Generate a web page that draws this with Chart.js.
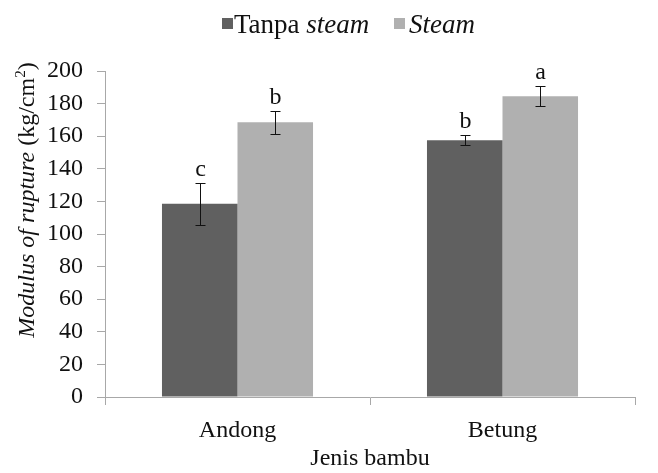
<!DOCTYPE html>
<html>
<head>
<meta charset="utf-8">
<script src="https://cdn.jsdelivr.net/npm/chart.js@4.4.1/dist/chart.umd.min.js"></script>
<style>
  html, body { margin: 0; padding: 0; background: #fff; }
  #wrap { width: 658px; height: 473px; position: relative; }
</style>
</head>
<body>
<div id="wrap"><canvas id="myChart"></canvas></div>
<script>
var categories = ["Andong", "Betung"];
var tanpaSteam = [118.5, 157.5];
var steam = [168.5, 184.5];
var tanpaSteamErr = [13, 3];
var steamErr = [7, 6];
var tanpaSteamLetters = ["c", "b"];
var steamLetters = ["b", "a"];
var darkColor = "#606060";
var lightColor = "#b0b0b0";
var axisColor = "#a8a8a8";
var serif = "'Liberation Serif', 'Times New Roman', serif";

var errorBars = {
  id: 'errorBars',
  afterDatasetsDraw(chart) {
    var ctx = chart.ctx;
    var y = chart.scales.y;
    var errs = [tanpaSteamErr, steamErr];
    var letters = [tanpaSteamLetters, steamLetters];
    ctx.save();
    chart.data.datasets.forEach(function (ds, di) {
      var meta = chart.getDatasetMeta(di);
      meta.data.forEach(function (bar, i) {
        var v = ds.data[i];
        var top = Math.round(y.getPixelForValue(v + errs[di][i])) + 0.5;
        var bot = Math.round(y.getPixelForValue(v - errs[di][i])) + 0.5;
        var x = Math.round(bar.x) + 0.5;
        ctx.strokeStyle = "#111";
        ctx.lineWidth = 1;
        ctx.beginPath();
        ctx.moveTo(x, top); ctx.lineTo(x, bot);
        ctx.moveTo(x - 5, top); ctx.lineTo(x + 5, top);
        ctx.moveTo(x - 5, bot); ctx.lineTo(x + 5, bot);
        ctx.stroke();
        ctx.fillStyle = "#111";
        ctx.font = "24px " + serif;
        ctx.textAlign = "center";
        ctx.textBaseline = "alphabetic";
        ctx.fillText(letters[di][i], x, top - 8);
      });
    });
    ctx.restore();
  }
};

// legend and y title mix italic and normal text, so they are drawn here
var customText = {
  id: 'customText',
  afterDraw(chart) {
    var ctx = chart.ctx;
    ctx.save();
    ctx.textBaseline = "alphabetic";
    ctx.textAlign = "left";

    // legend
    var ly = 33;
    ctx.fillStyle = darkColor;
    ctx.fillRect(222, 18, 11, 11);
    ctx.fillStyle = "#111";
    ctx.font = "27px " + serif;
    ctx.fillText("Tanpa ", 234, ly);
    var w = ctx.measureText("Tanpa ").width;
    ctx.font = "italic 27px " + serif;
    ctx.fillText("steam", 234 + w, ly);
    ctx.fillStyle = lightColor;
    ctx.fillRect(394, 18, 11, 11);
    ctx.fillStyle = "#111";
    ctx.fillText("Steam", 409, ly);

    // y axis title
    ctx.translate(34, 200);
    ctx.rotate(-Math.PI / 2);
    var p1 = "Modulus of rupture";
    var p2 = " (kg/cm";
    var p3 = "2";
    var p4 = ")";
    ctx.font = "italic 24px " + serif;
    var w1 = ctx.measureText(p1).width;
    ctx.font = "24px " + serif;
    var w2 = ctx.measureText(p2).width;
    var w4 = ctx.measureText(p4).width;
    ctx.font = "15px " + serif;
    var w3 = ctx.measureText(p3).width;
    var x0 = -(w1 + w2 + w3 + w4) / 2;
    ctx.font = "italic 24px " + serif;
    ctx.fillText(p1, x0, 0);
    ctx.font = "24px " + serif;
    ctx.fillText(p2, x0 + w1, 0);
    ctx.font = "15px " + serif;
    ctx.fillText(p3, x0 + w1 + w2, -9);
    ctx.font = "24px " + serif;
    ctx.fillText(p4, x0 + w1 + w2 + w3, 0);
    ctx.restore();
  }
};

new Chart("myChart", {
  type: "bar",
  data: {
    labels: categories,
    datasets: [
      { label: "Tanpa steam", data: tanpaSteam, backgroundColor: darkColor },
      { label: "Steam", data: steam, backgroundColor: lightColor }
    ]
  },
  plugins: [errorBars, customText],
  options: {
    responsive: true,
    maintainAspectRatio: false,
    animation: false,
    layout: { padding: { top: 71, right: 23, left: 0, bottom: 0 } },
    datasets: { bar: { categoryPercentage: 0.57, barPercentage: 1.0 } },
    plugins: {
      legend: { display: false },
      tooltip: { enabled: false }
    },
    scales: {
      x: {
        afterFit: function (s) { s.height = 76; },
        grid: { display: true, drawOnChartArea: false, tickLength: 8, color: axisColor },
        border: { color: axisColor },
        ticks: { color: "#111", font: { family: serif, size: 24 }, padding: 11 },
        title: { display: true, text: "Jenis bambu", color: "#111", font: { family: serif, size: 24 }, padding: 0 }
      },
      y: {
        min: 0,
        max: 200,
        afterFit: function (s) { s.width = 105; },
        grid: { display: true, drawOnChartArea: false, tickLength: 8, color: axisColor },
        border: { color: axisColor },
        ticks: { stepSize: 20, color: "#111", font: { family: serif, size: 24 }, padding: 14 }
      }
    }
  }
});
</script>
</body>
</html>
